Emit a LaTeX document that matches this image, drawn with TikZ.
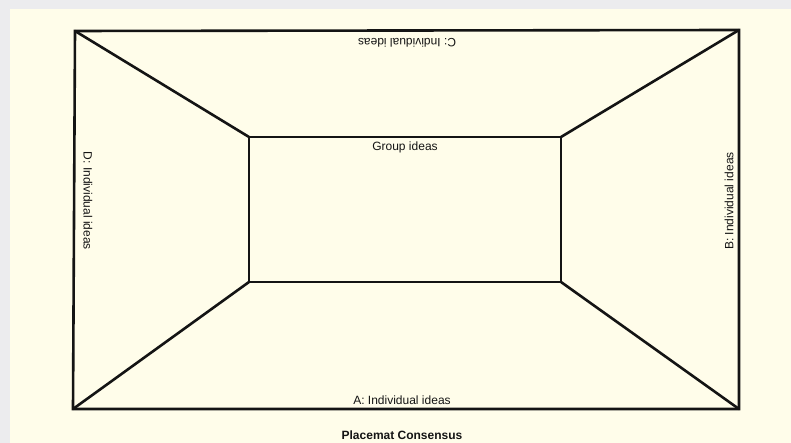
\documentclass[tikz,border=0pt]{standalone}
\usepackage{fontspec}
\setmainfont{Liberation Sans}
\usetikzlibrary{positioning}
\definecolor{paper}{RGB}{255, 253, 234}
\definecolor{frame}{RGB}{236, 236, 238}
\definecolor{ink}{RGB}{20, 20, 20}

\begin{document}
\begin{tikzpicture}[
	x=1pt, y=1pt,
	% Styles for the placemat lines
	matline/.style={draw=ink, line width=2.6pt, line join=miter},
	% Styles for the texts
	seatlabel/.style={text=ink, font=\fontsize{12}{14}\selectfont, inner sep=1pt},
	titlelabel/.style={text=ink, font=\fontsize{12}{14}\selectfont\bfseries, inner sep=1pt}
	]
	
	% ==========================================
	% BACKGROUND
	% ==========================================
	\useasboundingbox (0, 0) rectangle (791, 443);
	\fill[frame] (0, 0) rectangle (791, 443);
	\fill[paper] (10, 0) rectangle (791, 434);
	
	% ==========================================
	% CORNERS
	% ==========================================
	% Outer placemat
	\coordinate (otl) at (75, 412);
	\coordinate (otr) at (739, 413);
	\coordinate (obl) at (73, 34);
	\coordinate (obr) at (739, 34);
	% Inner group box
	\coordinate (itl) at (249, 306);
	\coordinate (itr) at (561, 306);
	\coordinate (ibl) at (249, 161);
	\coordinate (ibr) at (561, 161);
	
	% ==========================================
	% PLACEMAT
	% ==========================================
	\draw[matline] (otl) -- (otr) -- (obr) -- (obl) -- cycle;
	\draw[matline] (itl) -- (itr) -- (ibr) -- (ibl) -- cycle;
	
	% Diagonals from corner to corner
	\draw[matline] (otl) -- (itl);
	\draw[matline] (otr) -- (itr);
	\draw[matline] (obl) -- (ibl);
	\draw[matline] (obr) -- (ibr);
	
	% ==========================================
	% LABELS
	% ==========================================
	\node[seatlabel] (group) at (405, 296) {Group ideas};
	\node[seatlabel] (seatA) at (402, 43) {A: Individual ideas};
	\node[seatlabel, rotate=90] (seatB) at (729, 242) {B: Individual ideas};
	\node[seatlabel, rotate=180] (seatC) at (407, 400) {C: Individual ideas};
	\node[seatlabel, rotate=-90] (seatD) at (88, 242) {D: Individual ideas};
	
	\node[titlelabel] (title) at (402, 8) {Placemat Consensus};
	
\end{tikzpicture}
\end{document}
